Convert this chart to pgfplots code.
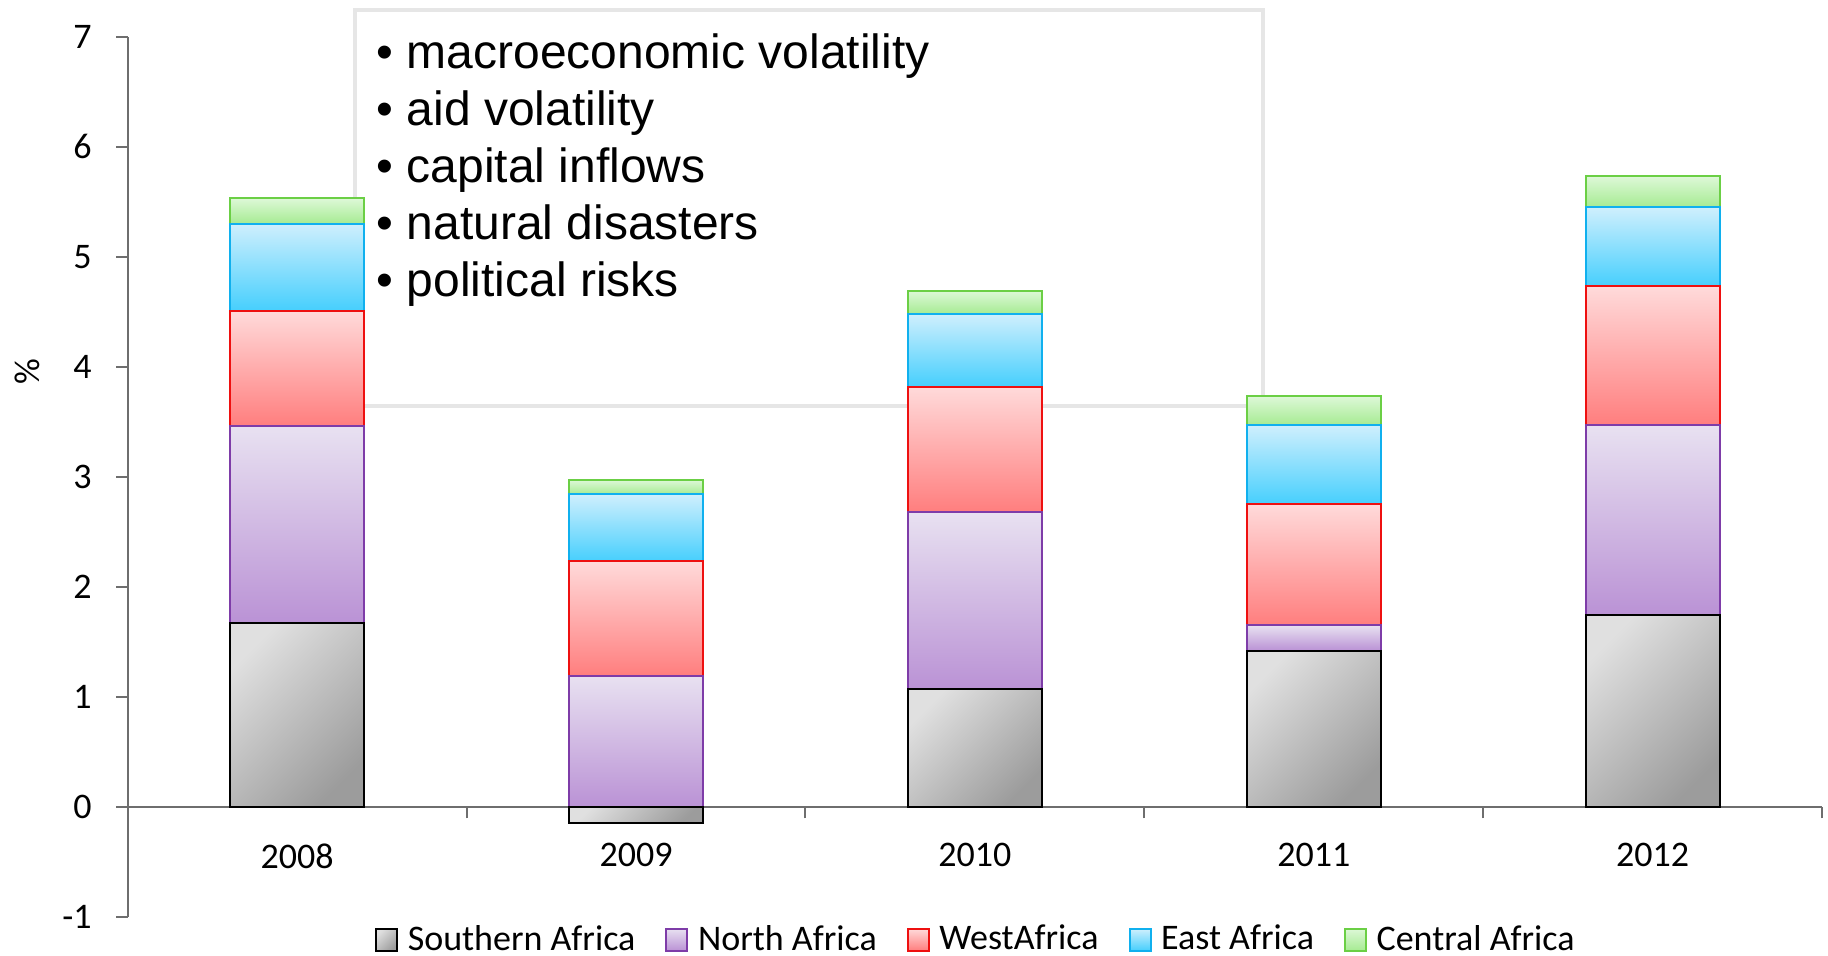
\documentclass[border=0pt]{standalone}
\usepackage{pgfplots}
\pgfplotsset{compat=1.18}
\usepackage{pgfplotstable}
\usepackage{fontspec}
\setmainfont{Carlito}
\newfontfamily\boxfont{Liberation Sans}

\definecolor{axisgray}{HTML}{6E6E6E}
\definecolor{boxgray}{HTML}{E6E6E6}
\definecolor{sgrayA}{HTML}{E0E0E0}
\definecolor{sgrayB}{HTML}{9C9C9C}
\definecolor{purA}{HTML}{E8E1F1}
\definecolor{purB}{HTML}{BA92D5}
\definecolor{purL}{HTML}{7E3CA8}
\definecolor{redA}{HTML}{FFDADA}
\definecolor{redB}{HTML}{FF7E7E}
\definecolor{redL}{HTML}{EE1010}
\definecolor{bluA}{HTML}{CFEFFD}
\definecolor{bluB}{HTML}{46CFFD}
\definecolor{bluL}{HTML}{10B0EE}
\definecolor{grnA}{HTML}{DDF8D7}
\definecolor{grnB}{HTML}{A6EB92}
\definecolor{grnL}{HTML}{6BCF45}

% contributions by region, one row per year (0 = 2008 ... 4 = 2012)
\pgfplotstableread{
pos S N W E C
0 1.67 1.79 1.05 0.79 0.23
1 -0.15 1.19 1.04 0.61 0.13
2 1.07 1.61 1.14 0.66 0.21
3 1.42 0.23 1.10 0.72 0.26
4 1.74 1.73 1.26 0.72 0.28
}\regiondata

% bar segment looks
\tikzset{
  segS/.style={draw=black, line width=1pt, top color=sgrayA, bottom color=sgrayB, shading angle=45},
  segN/.style={draw=purL, line width=1pt, top color=purA, bottom color=purB},
  segW/.style={draw=redL, line width=1pt, top color=redA, bottom color=redB},
  segE/.style={draw=bluL, line width=1pt, top color=bluA, bottom color=bluB},
  segC/.style={draw=grnL, line width=1pt, top color=grnA, bottom color=grnB},
  bullet/.style={anchor=base west, inner sep=0pt, font=\boxfont\fontsize{24}{28.8}\selectfont},
}
\newcommand\bul{\hbox to 12.8pt{\kern-2.4pt•\hss}}

% 440pt for 8 units: one y unit is 55pt
\pgfplotsset{
  frame/.style={
    scale only axis, width=847.2pt, height=440pt,
    at={(63.85pt,19.15pt)}, anchor=south west,
    xmin=-0.5, xmax=4.5, ymin=-1, ymax=7,
    ybar stacked, bar width=67pt,
  },
  % each stacked segment gets its own shaded box, centred on the middle of the segment
  segment/.style 2 args={
    draw=none, fill=none,
    nodes near coords={},
    visualization depends on={max(\thisrow{#1},0)*55 \as \segh},
    every node near coord/.append style={#2, shape=rectangle, inner sep=0pt, outer sep=0pt,
      anchor=center, minimum width=67pt, minimum height={\segh*1pt}},
  },
}

\begin{document}
\begin{tikzpicture}
\path[use as bounding box] (0,0) rectangle (914pt,477.5pt);
\begin{axis}[frame,
  clip=false,
  axis x line*=middle, axis y line*=left,
  axis line style={draw=axisgray, line width=1pt},
  tick style={draw=axisgray, line width=1pt},
  tick align=outside,
  major tick length=5.8pt, minor tick length=5.8pt,
  ytick={-1,0,...,7},
  xtick={0,...,4},
  xticklabels={2008,2009,2010,2011,2012},
  major x tick style={draw=none},
  minor xtick={0.5,1.5,2.5,3.5,4.5},
  /pgf/number format/assume math mode=true,
  tick label style={font=\fontsize{18}{21.6}\selectfont, inner sep=0pt},
  yticklabel style={anchor=east, xshift=-12pt},
  xticklabel style={anchor=north, yshift=-12.4pt},
  every axis y label/.style={at={(axis description cs:-0.0591,0.619)}, rotate=90, anchor=center,
    font=\fontsize{18}{21.6}\selectfont},
  ylabel={\%},
  legend columns=5,
  legend style={draw=none, fill=none, at={(axis description cs:0.5,-0.0418)}, anchor=south,
    font=\fontsize{18}{21.6}\selectfont, inner sep=0pt,
    nodes={inner sep=0pt},
    /tikz/every odd column/.append style={column sep=4.8pt},
    /tikz/every even column/.append style={column sep=15pt}},
  legend image code/.code={\draw[#1] (0pt,-5.8pt) rectangle (10.5pt,5.2pt);},
]
\addlegendimage{segS}
\addlegendimage{segN}
\addlegendimage{segW}
\addlegendimage{segE}
\addlegendimage{segC}
\legend{Southern Africa, North Africa, WestAfrica, East Africa, Central Africa}
% text panel behind the bars
\draw[boxgray, line width=2pt] (axis cs:0.172,3.64) rectangle (axis cs:2.850,7.24);
\node[bullet] at (axis cs:0.2469,6.715) {\bul macroeconomic volatility};
\node[bullet] at (axis cs:0.2469,6.197) {\bul aid volatility};
\node[bullet] at (axis cs:0.2469,5.679) {\bul capital inflows};
\node[bullet] at (axis cs:0.2469,5.152) {\bul natural disasters};
\node[bullet] at (axis cs:0.2469,4.634) {\bul political risks};
% positive part of each stack; negative values are drawn below zero separately
\addplot[segment={S}{segS}] table[x=pos, y expr={max(\thisrow{S},0)}] {\regiondata};
\addplot[segment={N}{segN}] table[x=pos, y=N] {\regiondata};
\addplot[segment={W}{segW}] table[x=pos, y=W] {\regiondata};
\addplot[segment={E}{segE}] table[x=pos, y=E] {\regiondata};
\addplot[segment={C}{segC}] table[x=pos, y=C] {\regiondata};
\end{axis}
% negative contributions, hung from the zero line
\begin{axis}[frame, hide axis]
\addplot[segS, restrict y to domain=-10:-0.001] table[x=pos, y=S] {\regiondata};
\end{axis}
\end{tikzpicture}
\end{document}
